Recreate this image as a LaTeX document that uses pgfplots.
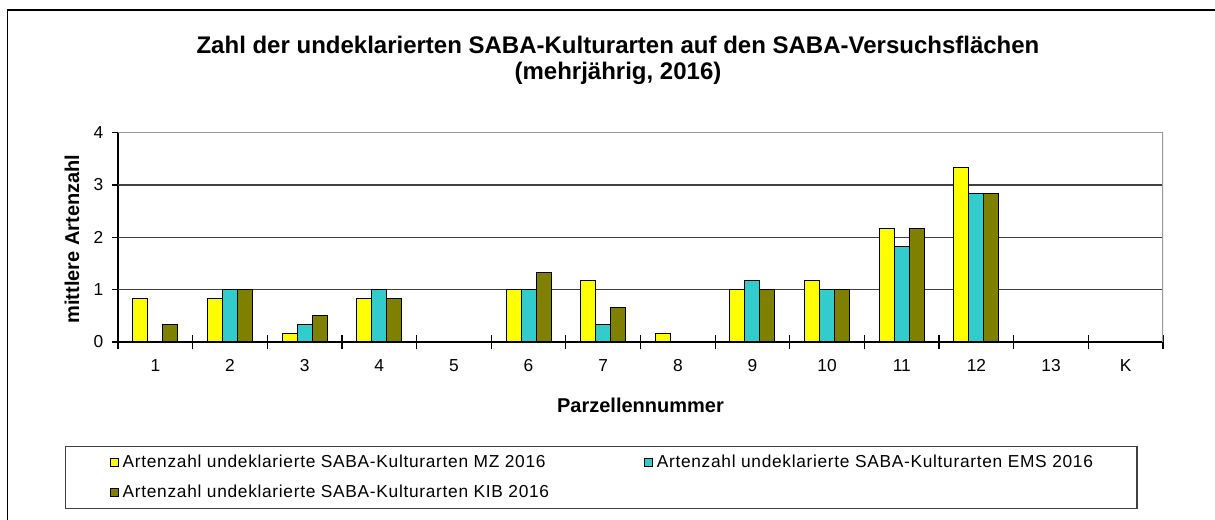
\documentclass[border=0pt]{standalone}
\usepackage{fontspec}
\setmainfont{Liberation Sans}
\newfontfamily\legendfont[LetterSpace=4]{Liberation Sans}
\usepackage{pgfplots}
\pgfplotsset{compat=1.18}
\definecolor{mz}{HTML}{FFFF00}
\definecolor{ems}{HTML}{33CCCC}
\definecolor{kib}{HTML}{808000}
\begin{document}
\begin{tikzpicture}
\path[use as bounding box] (0,0) rectangle (911.25pt,390pt);
\draw[line width=1pt] (5.6pt,-1pt) -- (5.6pt,382.5pt) -- (912pt,382.5pt);
\node[font=\bfseries\fontsize{18}{21}\selectfont] at (463.5pt,356.25pt) {Zahl der undeklarierten SABA-Kulturarten auf den SABA-Versuchsflächen};
\node[font=\bfseries\fontsize{18}{21}\selectfont] at (463.5pt,335.25pt) {(mehrjährig, 2016)};
\begin{axis}[
  at={(88.5pt,133.5pt)}, anchor=south west,
  scale only axis, width=783.75pt, height=157pt,
  ybar=0pt, bar width=11.25pt,
  xmin=-0.5, xmax=13.5, ymin=0, ymax=4,
  axis x line*=bottom, axis y line*=left,
  axis line style={-, line width=0.9pt, black},
  tick align=outside,
  major tick length=4.5pt,
  minor tick length=11pt,
  tick style={black, line width=0.9pt},
  xtick={0,...,13},
  xticklabels={1,2,3,4,5,6,7,8,9,10,11,12,13,K},
  major x tick style={draw=none},
  minor xtick={-0.5,0.5,...,13.5},
  minor x tick style={draw=black, line width=0.9pt, yshift=5.5pt},
  ytick={0,...,4},
  extra y ticks={1,2,3},
  extra y tick labels={},
  extra y tick style={grid=major, major tick length=0pt},
  grid style={line width=1pt, black!75},
  ticklabel style={font=\fontsize{13}{15}\selectfont},
  /pgf/number format/assume math mode=true,
  xticklabel style={yshift=-5pt},
  yticklabel style={xshift=-3pt},
  xlabel={Parzellennummer},
  ylabel={mittlere Artenzahl},
  label style={font=\bfseries\fontsize{15}{18}\selectfont},
  xlabel style={at={(axis description cs:0.5,-0.301)}, anchor=center},
  ylabel style={at={(axis description cs:-0.044,0.492)}, anchor=center},
  legend columns=2,
  legend image code/.code={\draw[#1, draw=black, line width=0.75pt] (0pt,-3pt) rectangle (6pt,3pt);},
  legend style={at={(axis description cs:-0.0507,-0.4969)}, anchor=north west,
    draw=black!75, line width=1pt, inner xsep=33pt, inner ysep=5.5pt,
    font=\legendfont\fontsize{13}{15}\selectfont,
    nodes={inner sep=0pt, text height=10pt, text depth=3pt},
    row sep=9.5pt,
    /tikz/every odd column/.append style={column sep=3pt},
    /tikz/every even column/.append style={column sep=71pt}},
  legend cell align=left,
]
\addplot[fill=mz, draw=black, line width=0.75pt] coordinates {
 (0,0.833) (1,0.833) (2,0.167) (3,0.833) (5,1) (6,1.167) (7,0.167) (8,1) (9,1.167) (10,2.167) (11,3.333)};
\addplot[fill=ems, draw=black, line width=0.75pt] coordinates {
 (1,1) (2,0.333) (3,1) (5,1) (6,0.333) (8,1.167) (9,1) (10,1.833) (11,2.833)};
\addplot[fill=kib, draw=black, line width=0.75pt] coordinates {
 (0,0.333) (1,1) (2,0.5) (3,0.833) (5,1.333) (6,0.667) (8,1) (9,1) (10,2.167) (11,2.833)};
\draw[black!40, line width=1pt] (rel axis cs:0,1) -- (rel axis cs:1,1) -- (rel axis cs:1,0);
\legend{Artenzahl undeklarierte SABA-Kulturarten MZ 2016, Artenzahl undeklarierte SABA-Kulturarten EMS 2016, Artenzahl undeklarierte SABA-Kulturarten KIB 2016}
\end{axis}
\end{tikzpicture}
\end{document}
